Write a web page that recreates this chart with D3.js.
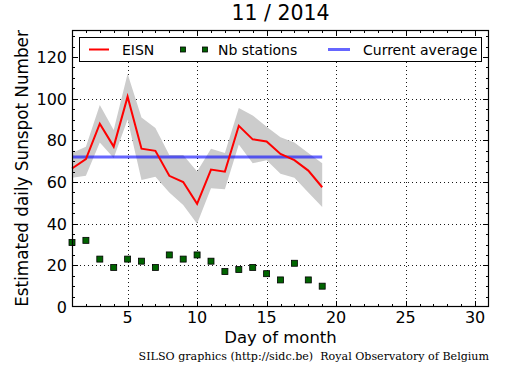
<!DOCTYPE html>
<html><head><meta charset="utf-8">
<script src="https://cdn.jsdelivr.net/npm/d3@7"></script>
<style>body{margin:0;background:#fff}svg{display:block}</style>
</head><body>
<script>
const days = [1,2,3,4,5,6,7,8,9,10,11,12,13,14,15,16,17,18,19];
const eisn = [66.5,71,88,77,101,76,75,63,60,49.5,66,65,87,80.5,79.5,73.5,70.5,65.5,57.5];
const eisnHigh = [74,77,97,85,112,91,86,73,73,65,76,74,95.5,92,86.5,81.5,79,74,69];
const eisnLow = [62,63,79,71.5,90,61,62.5,55,49,40,57,56.5,78,69,70.5,64,62,55,48];
const stations = [31,32,23,19,23,22,19,25,23,25,22,17,18,19,16,13,21,13,10];
const currentAverage = 72;
const xTicks = [5,10,15,20,25,30];
const yTicks = [0,20,40,60,80,100,120];
const title = "11 / 2014";

const W=515,H=370;
const m={l:72,r:489,t:30,b:307};
const svg=d3.select("body").append("svg").attr("width",W).attr("height",H)
  .style("font-family","'DejaVu Sans', sans-serif");
const x=d3.scaleLinear().domain([1,31]).range([m.l,m.r]);
const y=d3.scaleLinear().domain([0,133]).range([m.b,m.t]);

// grid
const grid=svg.append("g").attr("stroke","#000").attr("stroke-width",1).attr("stroke-dasharray","1,3").attr("opacity",0.9);
xTicks.forEach(t=>grid.append("line").attr("x1",Math.round(x(t))+0.5).attr("x2",Math.round(x(t))+0.5).attr("y1",m.t).attr("y2",m.b));
yTicks.filter(t=>t>0).forEach(t=>grid.append("line").attr("y1",Math.round(y(t))+0.5).attr("y2",Math.round(y(t))+0.5).attr("x1",m.l).attr("x2",m.r));

// band
const area=d3.area().x((d,i)=>x(days[i])).y0((d,i)=>y(eisnLow[i])).y1((d,i)=>y(eisnHigh[i]));
svg.append("path").datum(days).attr("d",area).attr("fill","#cccccc");

// current average
svg.append("line").attr("x1",x(days[0])).attr("x2",x(days[days.length-1]))
  .attr("y1",y(currentAverage)).attr("y2",y(currentAverage))
  .attr("stroke","#0000ff").attr("stroke-opacity",0.6).attr("stroke-width",3);

// EISN line
const line=d3.line().x((d,i)=>x(days[i])).y(d=>y(d));
svg.append("path").datum(eisn).attr("d",line).attr("fill","none").attr("stroke","#ff0000").attr("stroke-width",2);

// stations
svg.append("g").selectAll("rect").data(stations).join("rect")
  .attr("x",(d,i)=>x(days[i])-3).attr("y",d=>y(d)-3).attr("width",6).attr("height",6)
  .attr("fill","#006400").attr("stroke","#000").attr("stroke-width",0.8);

// frame
svg.append("rect").attr("x",m.l+0.5).attr("y",m.t+0.5).attr("width",m.r-m.l-1).attr("height",m.b-m.t-1)
  .attr("fill","none").attr("stroke","#000").attr("stroke-width",1.2);

// ticks
const tk=svg.append("g").attr("stroke","#000").attr("stroke-width",1);
for(let d=2;d<=30;d++){
  const px=Math.round(x(d))+0.5, major=xTicks.includes(d), L=major?6:3;
  tk.append("line").attr("x1",px).attr("x2",px).attr("y1",m.b).attr("y2",m.b-L);
  tk.append("line").attr("x1",px).attr("x2",px).attr("y1",m.t).attr("y2",m.t+L);
}
for(let v=5;v<=130;v+=5){
  const py=Math.round(y(v))+0.5, major=v%20===0, L=major?6:3;
  tk.append("line").attr("y1",py).attr("y2",py).attr("x1",m.l).attr("x2",m.l+L);
  tk.append("line").attr("y1",py).attr("y2",py).attr("x1",m.r).attr("x2",m.r-L);
}

// tick labels
svg.append("g").selectAll("text").data(xTicks).join("text")
  .attr("x",d=>x(d)).attr("y",m.b+16).attr("text-anchor","middle").attr("font-size",16).text(d=>d);
svg.append("g").selectAll("text").data(yTicks).join("text")
  .attr("x",m.l-5).attr("y",d=>y(d)+6).attr("text-anchor","end").attr("font-size",16).text(d=>d);

// axis labels
svg.append("text").attr("x",(m.l+m.r)/2).attr("y",343).attr("text-anchor","middle").attr("font-size",16.5).text("Day of month");
svg.append("text").attr("transform",`translate(28,${(m.t+m.b)/2}) rotate(-90)`).attr("text-anchor","middle").attr("font-size",16.8).text("Estimated daily Sunspot Number");
svg.append("text").attr("x",(m.l+m.r)/2).attr("y",20).attr("text-anchor","middle").attr("font-size",20.5).text(title);
svg.append("text").attr("x",m.r).attr("y",360).attr("text-anchor","end").attr("font-size",11.1)
  .attr("font-family","'DejaVu Serif', serif").style("white-space","pre").text("SILSO graphics (http://sidc.be)  Royal Observatory of Belgium");

// legend
const lg=svg.append("g");
lg.append("rect").attr("x",79.5).attr("y",37.5).attr("width",402).attr("height",24).attr("fill","#fff").attr("stroke","#000").attr("stroke-width",1);
lg.append("line").attr("x1",89).attr("x2",109).attr("y1",49.5).attr("y2",49.5).attr("stroke","#ff0000").attr("stroke-width",2);
lg.append("text").attr("x",122).attr("y",54.5).attr("font-size",14).text("EISN");
[183,205].forEach(px=>lg.append("rect").attr("x",px-2.5).attr("y",47).attr("width",5).attr("height",5).attr("fill","#006400").attr("stroke","#000").attr("stroke-width",0.8));
lg.append("text").attr("x",218).attr("y",54.5).attr("font-size",14).text("Nb stations");
lg.append("line").attr("x1",328).attr("x2",350).attr("y1",49.5).attr("y2",49.5).attr("stroke","#0000ff").attr("stroke-opacity",0.6).attr("stroke-width",3);
lg.append("text").attr("x",363).attr("y",54.5).attr("font-size",14).text("Current average");
</script>
</body></html>
